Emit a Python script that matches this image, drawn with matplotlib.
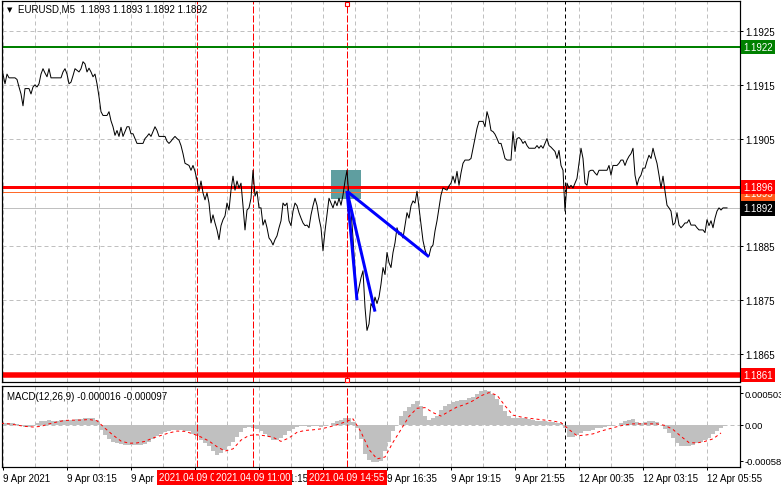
import matplotlib
matplotlib.use("Agg")
import matplotlib.pyplot as plt
from matplotlib.patches import Rectangle
from matplotlib.transforms import blended_transform_factory as blend

W, H = 781, 489
PX = 0.72  # one pixel in points at dpi 100
plt.rcParams["font.family"] = ["Liberation Sans", "DejaVu Sans"]
plt.rcParams["font.size"] = 7

# EURUSD M5 closes, bar 1 = 9 Apr 00:35 (bars are 5 min, weekend gap skipped)
close = [
    1.19170, 1.19152, 1.19170, 1.19163, 1.19163, 1.19163, 1.19163, 1.19160, 1.19146, 1.19133,
    1.19111, 1.19143, 1.19143, 1.19143, 1.19133, 1.19146, 1.19150, 1.19146, 1.19152, 1.19170,
    1.19180, 1.19172, 1.19165, 1.19180, 1.19163, 1.19163, 1.19163, 1.19163, 1.19163, 1.19163,
    1.19174, 1.19180, 1.19170, 1.19152, 1.19155, 1.19167, 1.19180, 1.19177, 1.19174, 1.19180,
    1.19193, 1.19189, 1.19174, 1.19181, 1.19174, 1.19165, 1.19170, 1.19152, 1.19128, 1.19100,
    1.19093, 1.19093, 1.19093, 1.19100, 1.19083, 1.19072, 1.19056, 1.19065, 1.19054, 1.19071,
    1.19054, 1.19063, 1.19072, 1.19072, 1.19059, 1.19059, 1.19050, 1.19041, 1.19041, 1.19041,
    1.19041, 1.19050, 1.19054, 1.19059, 1.19054, 1.19063, 1.19072, 1.19065, 1.19054, 1.19054,
    1.19054, 1.19054, 1.19045, 1.19041, 1.19045, 1.19050, 1.19054, 1.19050, 1.19047, 1.19037,
    1.19022, 1.19004, 1.19002, 1.19000, 1.18991, 1.19000, 1.18989, 1.18973, 1.18952, 1.18971,
    1.18949, 1.18936, 1.18949, 1.18930, 1.18893, 1.18908, 1.18893, 1.18880, 1.18862, 1.18888,
    1.18899, 1.18906, 1.18930, 1.18917, 1.18954, 1.18980, 1.18954, 1.18971, 1.18958, 1.18967,
    1.18925, 1.18880, 1.18917, 1.18921, 1.18939, 1.18991, 1.18943, 1.18952, 1.18921, 1.18921,
    1.18889, 1.18899, 1.18884, 1.18865, 1.18860, 1.18852, 1.18862, 1.18869, 1.18884, 1.18897,
    1.18930, 1.18925, 1.18930, 1.18897, 1.18888, 1.18915, 1.18930, 1.18925, 1.18912, 1.18902,
    1.18893, 1.18888, 1.18889, 1.18884, 1.18908, 1.18925, 1.18939, 1.18926, 1.18902, 1.18884,
    1.18841, 1.18878, 1.18908, 1.18939, 1.18930, 1.18921, 1.18934, 1.18925, 1.18939, 1.18926,
    1.18945, 1.18971, 1.18991, 1.18939, 1.18917, 1.18865, 1.18804, 1.18755, 1.18773, 1.18791,
    1.18804, 1.18736, 1.18693, 1.18705, 1.18743, 1.18736, 1.18755, 1.18743, 1.18755, 1.18779,
    1.18810, 1.18797, 1.18838, 1.18819, 1.18810, 1.18838, 1.18856, 1.18884, 1.18871, 1.18875,
    1.18865, 1.18888, 1.18912, 1.18902, 1.18925, 1.18934, 1.18930, 1.18952, 1.18921, 1.18889,
    1.18860, 1.18843, 1.18832, 1.18832, 1.18847, 1.18852, 1.18878, 1.18897, 1.18921, 1.18945,
    1.18958, 1.18956, 1.18954, 1.18962, 1.18967, 1.18980, 1.18967, 1.18989, 1.18963, 1.18986,
    1.19004, 1.19010, 1.19010, 1.19010, 1.19013, 1.19032, 1.19050, 1.19069, 1.19082, 1.19082,
    1.19082, 1.19072, 1.19100, 1.19087, 1.19065, 1.19063, 1.19058, 1.19050, 1.19041, 1.19041,
    1.19028, 1.19013, 1.19010, 1.19010, 1.19010, 1.19063, 1.19026, 1.19050, 1.19052, 1.19048,
    1.19041, 1.19045, 1.19037, 1.19032, 1.19032, 1.19032, 1.19032, 1.19037, 1.19032, 1.19037,
    1.19032, 1.19041, 1.19050, 1.19037, 1.19034, 1.19030, 1.19026, 1.19013, 1.19028, 1.19000,
    1.18991, 1.18915, 1.18967, 1.18958, 1.18963, 1.18958, 1.18967, 1.18976, 1.19004, 1.19032,
    1.19013, 1.18967, 1.18963, 1.18989, 1.18991, 1.18991, 1.18986, 1.18982, 1.18991, 1.18991,
    1.18991, 1.18991, 1.18991, 1.19000, 1.18982, 1.19000, 1.19000, 1.19000, 1.19004, 1.19010,
    1.19010, 1.19000, 1.19010, 1.19017, 1.19022, 1.19032, 1.18982, 1.18963, 1.18976, 1.18982,
    1.18995, 1.18995, 1.19008, 1.19019, 1.19013, 1.19032, 1.19017, 1.19004, 1.18982, 1.18958,
    1.18980, 1.18952, 1.18926, 1.18921, 1.18915, 1.18889, 1.18893, 1.18912, 1.18889, 1.18884,
    1.18888, 1.18893, 1.18893, 1.18899, 1.18889, 1.18889, 1.18889, 1.18884, 1.18880, 1.18880,
    1.18880, 1.18875, 1.18899, 1.18888, 1.18897, 1.18884, 1.18902, 1.18915, 1.18921, 1.18917,
    1.18921, 1.18921, 1.18921,
]
FIRST_BAR = 1

# MACD(12,26,9) main line (histogram) every 2nd bar from bar 0, in 1e-6
macd_hist_e6 = [
    30, 30, 30, 20, 10, -30, -40, -40, -30, 20,
    50, 60, 70, 60, 60, 70, 70, 70, 80, 90,
    90, 100, 100, 100, 80, -90, -170, -230, -280, -300,
    -310, -320, -320, -320, -320, -320, -310, -280, -230, -180,
    -150, -120, -100, -90, -90, -90, -100, -110, -150, -190,
    -240, -290, -340, -420, -480, -460, -410, -350, -280, -200,
    -120, -60, -40, -50, -70, -100, -150, -200, -250, -250,
    -210, -160, -110, -70, -40, -30, -30, -40, -30, -30,
    -40, -30, 0, 20, 50, 80, 110, 110, 40, -60,
    -230, -470, -570, -600, -600, -580, -430, -280, -100, 0,
    130, 210, 280, 330, 370, 290, 140, 70, 100, 140,
    230, 290, 330, 360, 380, 390, 400, 420, 440, 490,
    530, 550, 540, 490, 410, 310, 210, 140, 110, 110,
    100, 100, 90, 70, 60, 50, 50, 40, 40, 30,
    20, -50, -200, -200, -160, -130, -110, -100, -80, -60,
    -50, -40, -30, -20, 0, 30, 50, 70, 90, 40,
    20, 40, 50, 50, 40, 0, -70, -140, -220, -300,
    -340, -340, -340, -320, -300, -280, -250, -210, -150, -100,
    -60, -20,
]
HIST_STEP = 2

# signal line every 4th bar from bar 0, in 1e-6
macd_signal_e6 = [
    20, 10, -10, -30, -40, -30, 10, 40, 65, 70,
    70, 80, 60, -60, -170, -265, -300, -295, -270, -215,
    -175, -135, -105, -110, -150, -200, -265, -355, -425, -390,
    -250, -175, -165, -180, -205, -270, -215, -125, -95, -85,
    -70, -40, -5, 40, 90, -120, -400, -550, -520, -285,
    -80, 130, 260, 270, 190, 135, 210, 280, 320, 380,
    460, 510, 470, 300, 150, 120, 100, 85, 70, 55,
    30, -80, -180, -170, -150, -105, -70, -35, -5, 10,
    10, 10, 10, -15, -80, -190, -290, -295, -270, -230,
    -135,
]
SIGNAL_STEP = 4

price_ticks = [1.1865, 1.1875, 1.1885, 1.1905, 1.1915, 1.1925]
grid_prices = [1.1865, 1.1875, 1.1885, 1.1895, 1.1905, 1.1915, 1.1925]
macd_ticks = [0.000503, 0.0, -0.000583]
macd_tick_labels = ["0.000503", "0.00", "-0.000583"]

time_bars = [1, 33, 65, 97, 129, 161, 193, 225, 257, 289, 321, 353]
time_labels = ["9 Apr 2021", "9 Apr 03:15", "9 Apr 05:55", "", "9 Apr 11:15", "",
               "9 Apr 16:35", "9 Apr 19:15", "9 Apr 21:55", "12 Apr 00:35",
               "12 Apr 03:15", "12 Apr 05:55"]

vline_bars = [98, 126, 173]
vline_labels = ["2021.04.09 08:40", "2021.04.09 11:00", "2021.04.09 14:55"]
SEPARATOR_BAR = 282

LEVEL_GREEN = 1.1922
LEVEL_RED = 1.1896
LEVEL_ASK = 1.1895
LEVEL_BID = 1.1892
LEVEL_LOW = 1.1861

# entry box and the three sell arrows
box_bars = (165, 180)
box_prices = (1.18938, 1.18992)
trend_start = (173, 1.18952)
trend_ends = [(178, 1.18749), (187, 1.18728), (214, 1.18830)]

GRID = "#c0c0c0"


def px_axes(fig, left, top, right, bottom):
    return fig.add_axes([left / W, 1 - bottom / H, (right - left) / W, (bottom - top) / H])


def vertical_lines(ax):
    for b in range(1, 369, 16):
        ax.axvline(b, color=GRID, lw=PX, ls=(0, (4, 3)), zorder=0)
    for b in vline_bars:
        ax.axvline(b, color="red", lw=PX, ls=(0, (7, 2)), zorder=2)
    ax.axvline(SEPARATOR_BAR, color="black", lw=PX, ls=(0, (4, 3)), zorder=2)


def frame(ax):
    for s in ax.spines.values():
        s.set_color("black")
        s.set_linewidth(PX * 1.2)
    ax.set_xlim(0.5, 369.5)


def side_label(ax, y, text, fc):
    ax.text(1 + 3 / 738, y, text, transform=blend(ax.transAxes, ax.transData),
            ha="left", va="center", color="white", fontsize=7, clip_on=False,
            zorder=10, bbox=dict(boxstyle="square,pad=0.22", fc=fc, ec="none"))


fig = plt.figure(figsize=(W / 100, H / 100), dpi=100)
fig.patch.set_facecolor("white")

# ---- price panel
ax = px_axes(fig, 2, 2, 740, 383)
frame(ax)
ax.set_ylim(1.18597, 1.19306)
for p in grid_prices:
    ax.axhline(p, color=GRID, lw=PX, ls=(0, (4, 3)), zorder=0)
vertical_lines(ax)

ax.add_patch(Rectangle((box_bars[0], box_prices[0]), box_bars[1] - box_bars[0],
                       box_prices[1] - box_prices[0], fc="#5f9ea0", ec="none", zorder=1))
ax.axhline(LEVEL_GREEN, color="#008000", lw=2 * PX, zorder=2)
ax.axhline(LEVEL_BID, color="#c0c0c0", lw=PX, zorder=2)
ax.axhline(LEVEL_ASK, color="#ff6a2a", lw=PX, zorder=2)
ax.axhline(LEVEL_RED, color="red", lw=3 * PX, zorder=2)
ax.axhline(LEVEL_LOW, color="red", lw=5.5 * PX, zorder=2)

bars = list(range(FIRST_BAR, FIRST_BAR + len(close)))
ax.plot(bars, close, color="black", lw=PX, zorder=3)
for bx, by in trend_ends:
    ax.plot([trend_start[0], bx], [trend_start[1], by], color="#0000ff",
            lw=3 * PX, solid_capstyle="butt", zorder=4)

tr = blend(ax.transData, ax.transAxes)
for yy in (1 - 3 / 381, 2 / 381):
    ax.plot([vline_bars[-1]], [yy], transform=tr, marker="s", ms=3.5, mfc="white",
            mec="red", mew=0.8, clip_on=False, zorder=6)

ax.set_xticks([])
ax.yaxis.tick_right()
ax.set_yticks(price_ticks)
ax.set_yticklabels([f"{p:.4f}" for p in price_ticks])
ax.tick_params(axis="y", length=2.5, width=PX, pad=1.5, labelsize=7, colors="black")

side_label(ax, LEVEL_GREEN, f"{LEVEL_GREEN:.4f}", "#008000")
side_label(ax, LEVEL_ASK - 0.00002, f"{LEVEL_ASK:.4f}", "#ff5a1a")
side_label(ax, LEVEL_RED, f"{LEVEL_RED:.4f}", "red")
side_label(ax, LEVEL_BID, f"{LEVEL_BID:.4f}", "black")
side_label(ax, LEVEL_LOW, f"{LEVEL_LOW:.4f}", "red")

fig.text(9.5 / W, 1 - 10.5 / H, "▼", family="DejaVu Sans", fontsize=5,
         ha="center", va="center")
fig.text(18 / W, 1 - 10 / H, "EURUSD,M5  1.1893 1.1893 1.1892 1.1892",
         ha="left", va="center", fontsize=7)

# ---- MACD panel
ax2 = px_axes(fig, 2, 387, 740, 468)
frame(ax2)
ax2.set_ylim(-0.00068, 0.000616)
ax2.axhline(0, color=GRID, lw=PX, ls=(0, (4, 3)), zorder=0)
vertical_lines(ax2)

hist_bars = [i * HIST_STEP for i in range(len(macd_hist_e6))]
ax2.bar(hist_bars, [v * 1e-6 for v in macd_hist_e6], width=HIST_STEP * 1.08,
        color="#c0c0c0", linewidth=0, zorder=1)
sig_bars = [i * SIGNAL_STEP for i in range(len(macd_signal_e6))]
ax2.plot(sig_bars, [v * 1e-6 for v in macd_signal_e6], color="red", lw=PX,
         ls=(0, (3, 3)), zorder=3)

ax2.yaxis.tick_right()
ax2.set_yticks(macd_ticks)
ax2.set_yticklabels(macd_tick_labels)
ax2.tick_params(axis="y", length=2.5, width=PX, pad=1.0, labelsize=6.8)
ax2.set_xticks(time_bars)
ax2.set_xticklabels(time_labels)
ax2.tick_params(axis="x", length=2.5, width=PX, pad=2, labelsize=7)
for lbl in ax2.get_xticklabels():
    lbl.set_ha("left")

fig.text(7 / W, 1 - 397 / H, "MACD(12,26,9) -0.000016 -0.000097",
         ha="left", va="center", fontsize=7)

tr2 = blend(ax2.transData, ax2.transAxes)
for b, txt in zip(vline_bars, vline_labels):
    ax2.text(b, -10.5 / 81, txt, transform=tr2, ha="center", va="center",
             color="white", fontsize=7, clip_on=False, zorder=10,
             bbox=dict(boxstyle="square,pad=0.22", fc="red", ec="none"))

fig.savefig("out.png", dpi=100)
